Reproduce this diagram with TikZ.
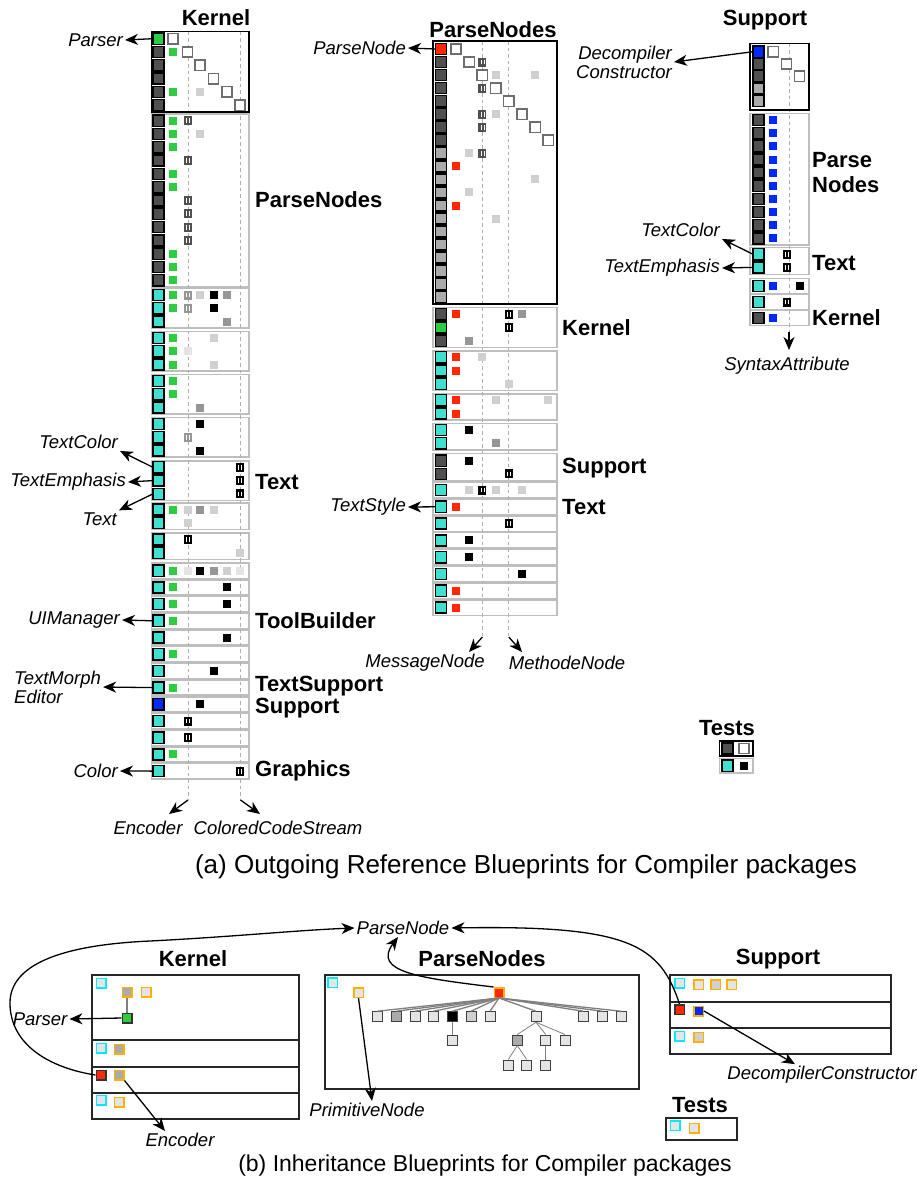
\documentclass[tikz,border=0pt]{standalone}
\usepackage{fontspec}
\setmainfont{Liberation Sans}
\usetikzlibrary{arrows.meta}

\definecolor{tealc}{RGB}{64,224,208}
\definecolor{greenc}{RGB}{46,204,64}
\definecolor{redc}{RGB}{255,40,0}
\definecolor{bluec}{RGB}{0,40,255}
\definecolor{darkc}{RGB}{80,80,80}
\definecolor{midc}{RGB}{170,170,170}
\definecolor{grayc}{RGB}{150,150,150}
\definecolor{lightc}{RGB}{208,208,208}
\definecolor{paleC}{RGB}{228,228,228}
\definecolor{grpgray}{RGB}{190,190,190}
\definecolor{guidegray}{RGB}{175,175,175}
\definecolor{diaggray}{RGB}{110,110,110}
\definecolor{orangec}{RGB}{255,176,0}
\definecolor{cyanc}{RGB}{0,235,255}

\tikzset{
  stripsq/.style={draw=black, line width=1.5pt, minimum size=11.2pt, inner sep=0pt, outer sep=0pt},
  grpbox/.style={draw=grpgray, line width=1.6pt, fill=white},
  topbox/.style={draw=black, line width=1.8pt},
  diagsq/.style={draw=diaggray, line width=1.5pt, fill=white},
  guide/.style={draw=guidegray, line width=1pt, dash pattern=on 3.5pt off 3pt},
  pkg/.style={font=\fontsize{22}{24}\selectfont\bfseries, inner sep=0pt},
  cls/.style={font=\fontsize{18.5}{21}\selectfont\itshape, inner sep=2pt},
  ref/.style={-{Stealth[length=13pt,width=11pt,inset=4pt]}, line width=1.3pt},
  bbox/.style={draw=black!85, line width=1.5pt},
  cyanb/.style={draw=cyanc, fill=paleC, line width=1.5pt, minimum size=9.5pt, inner sep=0pt},
  orab/.style={draw=orangec, line width=1.5pt, minimum size=9.5pt, inner sep=0pt},
  darkb/.style={draw=black!80, line width=1.5pt, minimum size=9.5pt, inner sep=0pt},
  treeb/.style={draw=black!75, line width=1pt, minimum size=10pt, inner sep=0pt},
  treeedge/.style={draw=gray, line width=1.3pt},
}

% one matrix cell, one cell with a marker, one diagonal square
\newcommand{\csq}[3]{\fill[#3] (#1-4,#2-4) rectangle (#1+4,#2+4);}
\newcommand{\hsq}[3]{%
  \fill[#3] (#1-4,#2-4.5) rectangle (#1+4,#2+4.5);
  \draw[white,line width=0.55pt] (#1-1.5,#2-2.4) -- (#1-1.5,#2+2.4) (#1+1.5,#2-2.4) -- (#1+1.5,#2+2.4);}
\newcommand{\dsq}[2]{\draw[diagsq] (#1-5.2,#2-5.2) rectangle (#1+5.2,#2+5.2);}

\begin{document}
\begin{tikzpicture}[x=1pt,y=-1pt]
  \fill[white] (0,0) rectangle (918,1183);
  \useasboundingbox (0,0) rectangle (918,1183);

  % ---------------- (a) Kernel
  \draw[grpbox] (151.5,31.5) rectangle (249,112);
  \foreach \a/\b in {114.2/286.8,288.5/328.1,331.5/371.1,374.5/414.1,417.5/457.1,460.8/500.4,503/529.3,533/559.3}
    \draw[grpbox] (151.5,\a) rectangle (249,\b);
  \foreach \y in {570.7,587.4,604.1,620.8,637.5,654.2,670.9,687.6,704.3,721.0,737.7,754.4,771.1}
    \draw[grpbox] (151.5,\y-7.6) rectangle (249,\y+7.6);
  \coordinate (kEncTop) at (188,31.5);
  \coordinate (kEncEnd) at (188,800);
  \coordinate (kEncTip) at (169,814);
  \coordinate (kCcsTop) at (240.5,31.5);
  \coordinate (kCcsEnd) at (240.5,800);
  \coordinate (kCcsTip) at (260,814);
  \draw[guide] (kEncTop) -- (kEncEnd);
  \draw[guide] (kCcsTop) -- (kCcsEnd);
  \draw[topbox] (151.5,31.5) rectangle (249,112);

  \dsq{173}{38.7} \dsq{187.5}{52} \dsq{200}{65.3} \dsq{213.5}{78.6} \dsq{227}{91.9} \dsq{240}{105.2}
  \csq{173}{52}{greenc} \csq{173}{91.9}{greenc} \csq{200}{91.9}{lightc}
  \foreach \y in {120.7,134,147.3,173.9,187.2,253.7,267,280.3} {\csq{173}{\y}{greenc}}
  \foreach \y in {120.7,160.6,200.5,213.8,227.1,240.4} {\hsq{187.5}{\y}{darkc}}
  \csq{200}{134}{lightc}
  \csq{173}{295}{greenc} \hsq{187.5}{295}{grayc} \csq{200}{295}{lightc} \csq{213.5}{295}{black} \csq{227}{295}{grayc}
  \csq{173}{308.3}{greenc} \hsq{187.5}{308.3}{grayc} \csq{213.5}{308.3}{black}
  \csq{227}{321.6}{grayc}
  \csq{173}{338}{greenc} \csq{213.5}{338}{lightc}
  \csq{173}{351.3}{greenc} \csq{187.5}{351.3}{paleC}
  \csq{173}{364.6}{greenc} \csq{213.5}{364.6}{lightc}
  \csq{173}{381}{greenc} \csq{173}{394.3}{greenc} \csq{200}{407.6}{grayc}
  \csq{200}{424}{black} \hsq{187.5}{437.3}{grayc} \csq{200}{450.6}{black}
  \foreach \y in {467.3,480.6,493.9} {\hsq{240}{\y}{black}}
  \csq{173}{509.5}{greenc} \csq{187.5}{509.5}{lightc} \csq{200}{509.5}{grayc} \csq{213.5}{509.5}{lightc}
  \csq{187.5}{522.8}{lightc}
  \hsq{187.5}{539.5}{black} \csq{240}{552.8}{lightc}
  \csq{173}{570.7}{greenc} \csq{187.5}{570.7}{paleC} \csq{200}{570.7}{black} \csq{213.5}{570.7}{grayc} \csq{227}{570.7}{lightc} \csq{240}{570.7}{paleC}
  \csq{173}{587.4}{greenc} \csq{227}{587.4}{black}
  \csq{173}{604.1}{greenc} \csq{227}{604.1}{black}
  \csq{173}{620.8}{greenc}
  \csq{227}{637.5}{black}
  \csq{173}{654.2}{greenc}
  \csq{213.5}{670.9}{black}
  \csq{173}{687.6}{greenc}
  \csq{200}{704.3}{black}
  \hsq{187.5}{721}{black}
  \hsq{187.5}{737.7}{black}
  \csq{173}{754.4}{greenc}
  \hsq{240}{771.1}{black}

  \node[stripsq,fill=greenc] (kA1-1) at (158.5,38.7) {};
  \foreach \y [count=\i from 2] in {52,65.3,78.6,91.9,105.2}
    \node[stripsq,fill=darkc] (kA1-\i) at (158.5,\y) {};
  \foreach \y [count=\i] in {120.7,134,147.3,160.6,173.9,187.2,200.5,213.8,227.1,240.4,253.7,267,280.3}
    \node[stripsq,fill=darkc] (kA2-\i) at (158.5,\y) {};
  \foreach \g/\ys in {A3/{295,308.3,321.6},A4/{338,351.3,364.6},A5/{381,394.3,407.6},A6/{424,437.3,450.6},A7/{467.3,480.6,493.9},A8/{509.5,522.8},A9/{539.5,552.8}}
    \foreach \y [count=\i] in \ys
      \node[stripsq,fill=tealc] (k\g-\i) at (158.5,\y) {};
  \foreach \y [count=\i] in {570.7,587.4,604.1,620.8,637.5,654.2,670.9,687.6,704.3,721.0,737.7,754.4,771.1}
    \node[stripsq,fill=tealc] (kS-\i) at (158.5,\y) {};
  \node[stripsq,fill=bluec] (kS-9) at (158.5,704.3) {};

  \node[pkg] (tKernel) at (216,18) {Kernel};
  \node[pkg,anchor=west] (kParseNodes) at (255,200) {ParseNodes};
  \node[pkg,anchor=west] (kText) at (255,482) {Text};
  \node[pkg,anchor=west] (kToolBuilder) at (255,621) {ToolBuilder};
  \node[pkg,anchor=west] (kTextSupport) at (255,686) {TextSupport};
  \node[pkg,anchor=west] (kSupport) at (255,708) {Support};
  \node[pkg,anchor=west] (kGraphics) at (255,771) {Graphics};

  \node[cls,anchor=east] (lParser) at (125,40) {Parser};
  \node[cls,anchor=east] (lTextColorK) at (120,442) {TextColor};
  \node[cls,anchor=east] (lTextEmphK) at (128,482) {TextEmphasis};
  \node[cls,anchor=east] (lTextK) at (119,519) {Text};
  \node[cls,anchor=east] (lUIManager) at (122,620) {UIManager};
  \node[cls,anchor=west,align=left] (lTextMorph) at (12,687) {TextMorph\\[-2pt]Editor};
  \node[cls,anchor=east] (lColor) at (120,771) {Color};
  \node[cls] (lEncoder) at (148,828) {Encoder};
  \node[cls] (lCcs) at (278,828) {ColoredCodeStream};

  \draw[ref] (kA1-1.west) -- (lParser.east);
  \draw[ref] (kA7-1.west) -- (lTextColorK.south east);
  \draw[ref] (kA7-2.west) -- (lTextEmphK.east);
  \draw[ref] (kA7-3.west) -- (lTextK.north east);
  \draw[ref] (kS-4.west) -- (lUIManager.east);
  \draw[ref] (kS-8.west) -- (lTextMorph.east);
  \draw[ref] (kS-13.west) -- (lColor.east);
  \draw[ref] (kEncEnd) -- (kEncTip);
  \draw[ref] (kCcsEnd) -- (kCcsTip);

  % ---------------- (a) ParseNodes
  \draw[grpbox] (433,41) rectangle (557,304);
  \foreach \a/\b in {307.5/347.3,350.7/390.3,394/420,423.5/450,453.5/480.5}
    \draw[grpbox] (433,\a) rectangle (557,\b);
  \foreach \y in {490,506.8,523.6,540.4,557.2,574,590.8,607.6}
    \draw[grpbox] (433,\y-7.8) rectangle (557,\y+7.8);
  \coordinate (pMsgTop) at (482.4,41);
  \coordinate (pMsgEnd) at (482.4,637);
  \coordinate (pMsgTip) at (469,652);
  \coordinate (pMthTop) at (508.8,41);
  \coordinate (pMthEnd) at (508.8,637);
  \coordinate (pMthTip) at (522,652);
  \draw[guide] (pMsgTop) -- (pMsgEnd);
  \draw[guide] (pMthTop) -- (pMthEnd);
  \draw[topbox] (433,41) rectangle (557,304);

  \foreach \x/\y in {456/49,469.2/62,482.4/75.1,495.6/88.1,508.8/101.2,522/114.2,535.2/127.2,548.4/140.3} {\dsq{\x}{\y}}
  \hsq{482.4}{62}{darkc}
  \csq{495.6}{75.1}{lightc} \csq{535.2}{75.1}{lightc}
  \hsq{482.4}{88.1}{darkc}
  \hsq{482.4}{114.2}{darkc} \csq{495.6}{114.2}{lightc}
  \hsq{482.4}{127.2}{darkc}
  \csq{469.2}{153.3}{lightc} \hsq{482.4}{153.3}{darkc}
  \csq{456}{166.4}{redc}
  \csq{535.2}{179.4}{lightc}
  \csq{469.2}{192.4}{lightc}
  \csq{456}{205.5}{redc}
  \csq{495.6}{218.5}{lightc}
  \csq{456}{314.3}{redc} \hsq{508.8}{314.3}{black} \csq{522}{314.3}{grayc}
  \hsq{508.8}{327.5}{black}
  \csq{469.2}{340.7}{grayc}
  \csq{456}{357.3}{redc} \csq{482.4}{357.3}{lightc}
  \csq{456}{370.5}{redc}
  \csq{508.8}{383.7}{lightc}
  \csq{456}{400.3}{redc} \csq{495.6}{400.3}{lightc} \csq{548.4}{400.3}{lightc}
  \csq{456}{413.5}{redc}
  \csq{469.2}{430}{black} \csq{495.6}{443.2}{grayc}
  \csq{469.2}{460.7}{black} \hsq{508.8}{473.9}{black}
  \csq{469.2}{490}{lightc} \hsq{482.4}{490}{black} \csq{495.6}{490}{lightc} \csq{522}{490}{lightc}
  \csq{456}{506.8}{redc}
  \hsq{508.8}{523.6}{black}
  \csq{469.2}{540.4}{black}
  \csq{469.2}{557.2}{black}
  \csq{522}{574}{black}
  \csq{456}{590.8}{redc}
  \csq{456}{607.6}{redc}

  \node[stripsq,fill=redc] (pA1-1) at (441,49) {};
  \foreach \y [count=\i from 2] in {62,75.1,88.1,101.2,114.2,127.2,140.3}
    \node[stripsq,fill=darkc] (pA1-\i) at (441,\y) {};
  \foreach \y [count=\i from 9] in {153.3,166.4,179.4,192.4,205.5,218.5,231.6,244.6,257.6,270.7,283.7,296.8}
    \node[stripsq,fill=midc] (pA1-\i) at (441,\y) {};
  \node[stripsq,fill=darkc] (pA2-1) at (441,314.3) {};
  \node[stripsq,fill=greenc] (pA2-2) at (441,327.5) {};
  \node[stripsq,fill=darkc] (pA2-3) at (441,340.7) {};
  \foreach \g/\ys in {A3/{357.3,370.5,383.7},A4/{400.3,413.5},A5/{430,443.2}}
    \foreach \y [count=\i] in \ys
      \node[stripsq,fill=tealc] (p\g-\i) at (441,\y) {};
  \node[stripsq,fill=darkc] (pA6-1) at (441,460.7) {};
  \node[stripsq,fill=darkc] (pA6-2) at (441,473.9) {};
  \foreach \y [count=\i] in {490,506.8,523.6,540.4,557.2,574,590.8,607.6}
    \node[stripsq,fill=tealc] (pS-\i) at (441,\y) {};

  \node[pkg] (tParseNodes) at (493,30) {ParseNodes};
  \node[pkg,anchor=west] (pKernel) at (562,328) {Kernel};
  \node[pkg,anchor=west] (pSupport) at (562,468) {Support};
  \node[pkg,anchor=west] (pText) at (562,507) {Text};
  \node[cls,anchor=east] (lParseNode) at (408,48) {ParseNode};
  \node[cls,anchor=east] (lTextStyle) at (408,507) {TextStyle};
  \node[cls] (lMessage) at (425,663) {MessageNode};
  \node[cls] (lMethode) at (567,663) {MethodeNode};
  \draw[ref] (pA1-1.west) -- (lParseNode.east);
  \draw[ref] (pS-2.west) -- (lTextStyle.east);
  \draw[ref] (pMsgEnd) -- (pMsgTip);
  \draw[ref] (pMthEnd) -- (pMthTip);

  % ---------------- (a) Support
  \draw[grpbox] (750,43.5) rectangle (809,110);
  \foreach \a/\b in {113.5/245,247.5/274.5,278.3/293.7,294.5/309.5,310.5/325.5}
    \draw[grpbox] (750,\a) rectangle (809,\b);
  \coordinate (sSynTop) at (789,43.5);
  \coordinate (sSynEnd) at (789,332);
  \coordinate (sSynTip) at (789,350);
  \draw[guide] (sSynTop) -- (sSynEnd);
  \draw[topbox] (750,43.5) rectangle (809,110);

  \dsq{773.3}{51.7} \dsq{786.5}{64} \dsq{799.5}{76.3}
  \foreach \y in {120,133.2,146.3,159.5,172.6,185.8,198.9,212.1,225.2,238.4} {\csq{773.3}{\y}{bluec}}
  \hsq{786.5}{254.2}{black} \hsq{786.5}{267.4}{black}
  \csq{773.3}{286}{bluec} \csq{799.5}{286}{black}
  \hsq{786.5}{302}{black}
  \csq{773.3}{318}{bluec}

  \node[stripsq,fill=bluec] (sA1-1) at (758.5,51.7) {};
  \node[stripsq,fill=darkc] (sA1-2) at (758.5,64) {};
  \node[stripsq,fill=darkc] (sA1-3) at (758.5,76.3) {};
  \node[stripsq,fill=midc] (sA1-4) at (758.5,88.6) {};
  \node[stripsq,fill=midc] (sA1-5) at (758.5,100.9) {};
  \foreach \y [count=\i] in {120,133.2,146.3,159.5,172.6,185.8,198.9,212.1,225.2,238.4}
    \node[stripsq,fill=darkc] (sA2-\i) at (758.5,\y) {};
  \node[stripsq,fill=tealc] (sA3-1) at (758.5,254.2) {};
  \node[stripsq,fill=tealc] (sA3-2) at (758.5,267.4) {};
  \node[stripsq,fill=tealc] (sA4-1) at (758.5,286) {};
  \node[stripsq,fill=tealc] (sA5-1) at (758.5,302) {};
  \node[stripsq,fill=darkc] (sA6-1) at (758.5,318) {};

  \node[pkg] (tSupport) at (765,20) {Support};
  \node[pkg,anchor=west,align=left] (sParseNodes) at (812,173) {Parse\\[1pt]Nodes};
  \node[pkg,anchor=west] (sText) at (812,263) {Text};
  \node[pkg,anchor=west] (sKernel) at (812,318) {Kernel};
  \node[cls,anchor=east,align=right] (lDecomp) at (674,62) {Decompiler\\[-2pt]Constructor};
  \node[cls,anchor=east] (lTextColorS) at (722,230) {TextColor};
  \node[cls,anchor=east] (lTextEmphS) at (722,268) {TextEmphasis};
  \node[cls] (lSyntax) at (787,366) {SyntaxAttribute};
  \draw[ref] (sA1-1.west) -- (lDecomp.east);
  \draw[ref] (sA3-1.west) -- (lTextColorS.south east);
  \draw[ref] (sA3-2.west) -- (lTextEmphS.east);
  \draw[ref] (sSynEnd) -- (sSynTip);

  % ---------------- (a) Tests
  \node[pkg] (tTests) at (727,728) {Tests};
  \draw[grpbox] (719.5,758.5) rectangle (753,773);
  \draw[topbox] (719.5,741) rectangle (753,756);
  \dsq{744}{748.5}
  \csq{744}{765.7}{black}
  \node[stripsq,fill=darkc] (tA-1) at (727.5,748.5) {};
  \node[stripsq,fill=tealc] (tA-2) at (727.5,765.7) {};

  \node[font=\fontsize{26}{28}\selectfont] (capA) at (526,867) {(a) Outgoing Reference Blueprints for Compiler packages};

  % ---------------- (b) Kernel
  \draw[bbox] (92,975) rectangle (299,1119);
  \draw[bbox] (92,1040) -- (299,1040) (92,1067) -- (299,1067) (92,1093) -- (299,1093);
  \node[pkg] (bKernel) at (193,959) {Kernel};
  \node[cyanb] (kbC1) at (101,983) {};
  \node[orab,fill=midc] (kbO1) at (127,992) {};
  \node[orab,fill=paleC] (kbO2) at (146,992) {};
  \node[darkb,fill=greenc] (kbGreen) at (127,1018) {};
  \draw[treeedge] (kbO1.south) -- (kbGreen.north);
  \node[cyanb] (kbC2) at (101,1048) {};
  \node[orab,fill=midc] (kbO3) at (119,1049) {};
  \node[darkb,fill=redc] (kbRed) at (101,1075) {};
  \node[orab,fill=midc] (kbO4) at (119,1075) {};
  \node[cyanb] (kbC3) at (101,1100) {};
  \node[orab,fill=paleC] (kbO5) at (119,1102) {};
  \node[cls] (lParserB) at (40,1019) {Parser};
  \node[cls] (lEncoderB) at (180,1140) {Encoder};
  \draw[ref] (kbGreen.west) -- (lParserB.east);
  \draw[ref] (kbO4.south east) -- ([xshift=-15pt]lEncoderB.north);

  % ---------------- (b) ParseNodes
  \draw[bbox] (325,975) rectangle (639,1089);
  \node[pkg] (bParseNodes) at (482,959) {ParseNodes};
  \node[cyanb] (pbC) at (332.5,982.5) {};
  \node[orab,fill=paleC] (pbPrim) at (358.5,992.5) {};
  \node[orab,fill=redc] (pbRoot) at (499,992.5) {};
  \foreach \x/\c [count=\i] in {377.3/paleC,396.3/midc,415/paleC,433.3/paleC,452.3/black,471/lightc,490/paleC,536/paleC,583.3/paleC,602.3/paleC,621/paleC}
    \node[treeb,fill=\c] (t1-\i) at (\x,1016.7) {};
  \foreach \i in {1,...,11}
    \draw[treeedge] (pbRoot.south) -- (t1-\i.north);
  \node[treeb,fill=paleC] (t2-1) at (452.3,1040) {};
  \node[treeb,fill=midc] (t2-2) at (517.3,1040) {};
  \node[treeb,fill=paleC] (t2-3) at (545.7,1040) {};
  \node[treeb,fill=paleC] (t2-4) at (565,1040) {};
  \node[treeb,fill=paleC] (t3-1) at (508.3,1065) {};
  \node[treeb,fill=paleC] (t3-2) at (526.7,1065) {};
  \node[treeb,fill=paleC] (t3-3) at (545.7,1065) {};
  \draw[treeedge,line width=0.8pt] (t1-5.south) -- (t2-1.north);
  \foreach \i in {2,3,4}
    \draw[treeedge,line width=0.8pt] (t1-8.south) -- (t2-\i.north);
  \draw[treeedge,line width=0.8pt] (t2-2.south) -- (t3-1.north);
  \draw[treeedge,line width=0.8pt] (t2-2.south) -- (t3-2.north);
  \draw[treeedge,line width=0.8pt] (t2-3.south) -- (t3-3.north);
  \node[cls] (lPrim) at (367,1110) {PrimitiveNode};
  \draw[ref] (pbPrim.south) -- ([xshift=5pt]lPrim.north);

  % ---------------- (b) Support
  \draw[bbox] (670,975) rectangle (891,1054);
  \draw[bbox] (670,1002) -- (891,1002) (670,1028) -- (891,1028);
  \node[pkg] (bSupport) at (778,959) {Support};
  \node[cyanb] (sbC1) at (679.5,983) {};
  \node[orab,fill=paleC] (sbO1) at (698.5,984.5) {};
  \node[orab,fill=lightc] (sbO2) at (715.5,984.5) {};
  \node[orab,fill=paleC] (sbO3) at (731.5,984.5) {};
  \node[darkb,fill=redc] (sbRed) at (679.5,1009.5) {};
  \node[orab,fill=bluec] (sbBlue) at (698.5,1011) {};
  \node[cyanb] (sbC2) at (679.5,1036) {};
  \node[orab,fill=lightc] (sbO4) at (698.5,1037) {};
  \node[cls] (lDecompB) at (822,1075) {DecompilerConstructor};
  \draw[ref] (sbBlue.east) -- ([xshift=-27pt]lDecompB.north);

  % ---------------- (b) Tests
  \node[pkg] (bTests) at (700,1105) {Tests};
  \draw[bbox] (666,1118) rectangle (737,1140);
  \node[cyanb] (tbC) at (675,1125.5) {};
  \node[orab,fill=paleC] (tbO) at (694,1128) {};

  % ---------------- (b) references to ParseNode
  \node[cls] (lPN) at (403,928) {ParseNode};
  \draw[ref] (kbRed.west) .. controls (50,1068) and (10,1045) .. (10,1003)
    .. controls (10,965) and (60,945) .. (150,941)
    .. controls (230,937) and (300,930) .. (lPN.west);
  \draw[ref] (sbRed.north) .. controls (660,945) and (630,925) .. (lPN.east);
  \draw[ref] (pbRoot.north west) .. controls (420,978) and (372,972) .. ([xshift=-5pt]lPN.south);

  \node[font=\fontsize{23}{26}\selectfont] (capB) at (485,1166) {(b) Inheritance Blueprints for Compiler packages};
\end{tikzpicture}
\end{document}
